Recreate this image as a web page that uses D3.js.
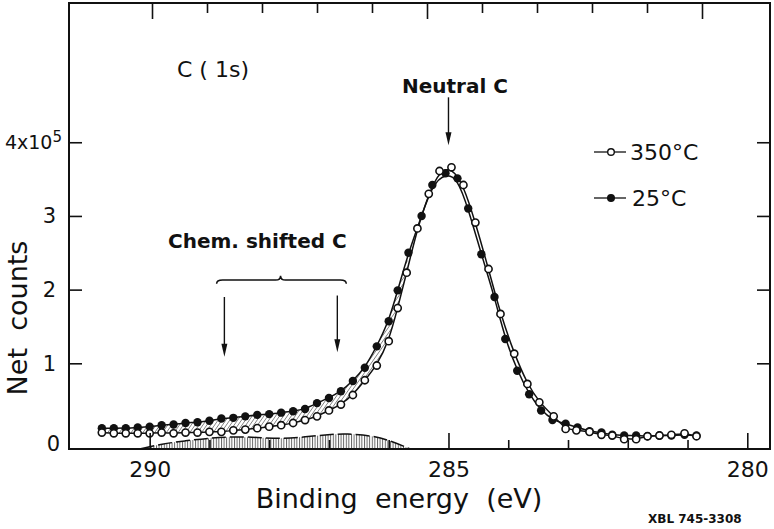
<!DOCTYPE html>
<html>
<head>
<meta charset="utf-8">
<script src="https://cdn.jsdelivr.net/npm/d3@7"></script>
<style>
  body { margin: 0; background: #fff; }
  svg { display: block; }
  text { font-family: "DejaVu Sans", sans-serif; fill: #111; }
</style>
</head>
<body>
<svg id="chart" width="774" height="529"></svg>
<script>
// ─── Data (counts in units of 1e5) ────────────────────────────────

// 350 °C, open circles
const energy350 = [290.8, 290.6, 290.4, 290.2, 290.0, 289.8, 289.6, 289.4, 289.2, 289.0,
  288.8, 288.6, 288.4, 288.2, 288.0, 287.8, 287.6, 287.4, 287.2, 287.0,
  286.8, 286.6, 286.4, 286.2, 286.0, 285.85, 285.7, 285.52, 285.33, 285.15,
  284.95, 284.75, 284.55, 284.33, 284.13, 283.9, 283.68, 283.48, 283.24, 283.04,
  282.86, 282.64, 282.44, 282.26, 282.06, 281.86, 281.67, 281.47, 281.27, 281.05, 280.85];
const counts350 = [0.06, 0.05, 0.05, 0.05, 0.05, 0.06, 0.05, 0.06, 0.06, 0.07,
  0.07, 0.09, 0.10, 0.12, 0.14, 0.16, 0.19, 0.23, 0.28, 0.36,
  0.44, 0.57, 0.77, 0.97, 1.30, 1.75, 2.23, 2.83, 3.30, 3.61,
  3.66, 3.42, 2.91, 2.28, 1.67, 1.13, 0.72, 0.47, 0.28, 0.11,
  0.09, 0.07, 0.03, 0.02, -0.03, -0.03, 0.01, 0.02, 0.03, 0.05, 0.01];

// 25 °C, filled circles
const energy25 = [290.8, 290.6, 290.4, 290.2, 290.0, 289.8, 289.6, 289.4, 289.2, 289.0,
  288.8, 288.6, 288.4, 288.2, 288.0, 287.8, 287.6, 287.4, 287.2, 287.0,
  286.8, 286.6, 286.4, 286.2, 286.0, 285.85, 285.67, 285.45, 285.27, 285.05,
  284.85, 284.67, 284.45, 284.23, 284.05, 283.85, 283.65, 283.45, 283.26, 283.04,
  282.84, 282.64, 282.44, 282.26, 282.06, 281.86, 281.67, 281.47, 281.27, 281.05, 280.85];
const counts25 = [0.12, 0.12, 0.12, 0.13, 0.14, 0.16, 0.17, 0.19, 0.20, 0.22,
  0.25, 0.26, 0.28, 0.30, 0.31, 0.33, 0.35, 0.38, 0.46, 0.53,
  0.62, 0.76, 0.94, 1.23, 1.57, 1.99, 2.50, 3.00, 3.42, 3.58,
  3.51, 3.10, 2.48, 1.90, 1.33, 0.90, 0.58, 0.36, 0.23, 0.18,
  0.13, 0.08, 0.06, 0.03, 0.02, 0.02, 0.01, 0.02, 0.02, 0.03, 0.02];

// dashed difference curve near the baseline
const diffEnergy = [290.15, 289.8, 289.4, 289.0, 288.6, 288.2, 287.8, 287.4, 287.0, 286.7, 286.3, 286.0, 285.65];
const diffCounts = [-0.16, -0.095, -0.05, -0.015, 0.005, -0.005, -0.025, 0.0, 0.035, 0.045, 0.02, -0.04, -0.16];

const xTicks = [290, 289, 288, 287, 286, 285, 284, 283, 282, 281, 280];
const xMajor = [290, 285, 280];
const yTicks = [0, 1, 2, 3, 4];
const hatchEndIndex = 26;   // the two fits merge past this point

// ─── Scales ───────────────────────────────────────────────────────

const svg = d3.select('#chart');
const x = d3.scaleLinear().domain([291.35, 279.62]).range([69, 770]);
const xTop = d3.scaleLinear().domain([290, 280]).range([152, 702]);   // top ticks are drawn tighter in the original
const y = d3.scaleLinear().domain([-0.163, 5.89]).range([449, 3]);

const pts350 = energy350.map((e, i) => [e, counts350[i]]);
const pts25 = energy25.map((e, i) => [e, counts25[i]]);
const diffPts = diffEnergy.map((e, i) => [e, diffCounts[i]]);

// ─── Patterns ─────────────────────────────────────────────────────

const defs = svg.append('defs');
defs.append('pattern')
  .attr('id', 'diag').attr('patternUnits', 'userSpaceOnUse')
  .attr('width', 3.2).attr('height', 3.2)
  .attr('patternTransform', 'rotate(35)')
  .append('line')
  .attr('x1', 0).attr('y1', 0).attr('x2', 0).attr('y2', 3.2)
  .attr('stroke', '#333').attr('stroke-width', 1);

defs.append('pattern')
  .attr('id', 'vert').attr('patternUnits', 'userSpaceOnUse')
  .attr('width', 2.6).attr('height', 10)
  .append('line')
  .attr('x1', 0.5).attr('y1', 0).attr('x2', 0.5).attr('y2', 10)
  .attr('stroke', '#555').attr('stroke-width', 0.9);

// ─── Difference region (bottom) ───────────────────────────────────

const diffArea = d3.area()
  .x(d => x(d[0])).y0(y(y.domain()[0])).y1(d => y(d[1]))
  .curve(d3.curveBasis);
svg.append('path').datum(diffPts)
  .attr('d', diffArea).attr('fill', 'url(#vert)').attr('stroke', 'none');
svg.append('path').datum(diffPts)
  .attr('d', d3.line().x(d => x(d[0])).y(d => y(d[1])).curve(d3.curveBasis))
  .attr('fill', 'none').attr('stroke', '#111').attr('stroke-width', 1.5)
  .attr('stroke-dasharray', '14,4');

// ─── Hatched band between the two fits ────────────────────────────

const fit = d3.line().x(d => x(d[0])).y(d => y(d[1])).curve(d3.curveBasis);
const bandTop = pts25.slice(0, hatchEndIndex + 1);
const bandBot = pts350.slice(0, hatchEndIndex + 1).reverse();
svg.append('path')
  .attr('d', fit(bandTop) + fit(bandBot).replace(/^M/, 'L') + 'Z')
  .attr('fill', 'url(#diag)').attr('stroke', 'none');

svg.append('path').datum(pts25).attr('d', fit)
  .attr('fill', 'none').attr('stroke', '#111').attr('stroke-width', 1.5);
svg.append('path').datum(pts350).attr('d', fit)
  .attr('fill', 'none').attr('stroke', '#111').attr('stroke-width', 1.5);

// ─── Markers ──────────────────────────────────────────────────────

svg.append('g').selectAll('circle').data(pts25).join('circle')
  .attr('cx', d => x(d[0])).attr('cy', d => y(d[1])).attr('r', 4.2)
  .attr('fill', '#111');
svg.append('g').selectAll('circle').data(pts350).join('circle')
  .attr('cx', d => x(d[0])).attr('cy', d => y(d[1])).attr('r', 3.6)
  .attr('fill', '#fff').attr('stroke', '#111').attr('stroke-width', 1.6);

// ─── Frame and axes ───────────────────────────────────────────────

svg.append('rect')
  .attr('x', x.range()[0]).attr('y', y.range()[1])
  .attr('width', x.range()[1] - x.range()[0]).attr('height', y.range()[0] - y.range()[1])
  .attr('fill', 'none').attr('stroke', '#111').attr('stroke-width', 2);

const gx = svg.append('g')
  .attr('transform', `translate(0,${y.range()[0]})`)
  .call(d3.axisBottom(x).tickValues(xTicks).tickSize(-9).tickPadding(12)
    .tickFormat(d => xMajor.includes(d) ? d : ''));
gx.select('.domain').remove();
gx.selectAll('.tick line').attr('stroke', '#111').attr('stroke-width', 1.6)
  .attr('y2', d => xMajor.includes(d) ? -16 : -9);
gx.selectAll('.tick text').attr('font-family', '"DejaVu Sans", sans-serif')
  .attr('font-size', 22).attr('fill', '#111');

const gxTop = svg.append('g')
  .attr('transform', `translate(0,${y.range()[1]})`)
  .call(d3.axisTop(xTop).tickValues(xTicks).tickSize(-9).tickFormat(''));
gxTop.select('.domain').remove();
gxTop.selectAll('.tick line').attr('stroke', '#111').attr('stroke-width', 1.6)
  .attr('y2', d => xMajor.includes(d) ? 16 : 10);

const gy = svg.append('g')
  .attr('transform', `translate(${x.range()[0]},0)`)
  .call(d3.axisLeft(y).tickValues(yTicks).tickSize(-13).tickPadding(13).tickFormat(d3.format('d')));
gy.select('.domain').remove();
gy.selectAll('.tick line').attr('stroke', '#111').attr('stroke-width', 1.6)
  .attr('display', d => d === 0 ? 'none' : null);
gy.selectAll('.tick text').attr('font-family', '"DejaVu Sans", sans-serif')
  .attr('font-size', 21).attr('fill', '#111');
gy.selectAll('.tick text').filter(d => d === 0).attr('x', -9).attr('dy', '0.62em');
gy.selectAll('.tick text').filter(d => d === 4).each(function () {
  const t = d3.select(this).text('').attr('x', -7);
  t.append('tspan').text('4x10').attr('font-size', 19);
  t.append('tspan').text('5').attr('font-size', 15).attr('dy', -7);
});

const gyR = svg.append('g')
  .attr('transform', `translate(${x.range()[1]},0)`)
  .call(d3.axisRight(y).tickValues(yTicks.slice(1)).tickSize(-13).tickFormat(''));
gyR.select('.domain').remove();
gyR.selectAll('.tick line').attr('stroke', '#111').attr('stroke-width', 1.6);

// ─── Axis titles ──────────────────────────────────────────────────

svg.append('text')
  .attr('transform', 'translate(27,318) rotate(-90)')
  .attr('text-anchor', 'middle').attr('font-size', 27)
  .style('white-space', 'pre')
  .text('Net  counts');

svg.append('text')
  .attr('x', 399).attr('y', 508)
  .attr('text-anchor', 'middle').attr('font-size', 27)
  .style('white-space', 'pre')
  .text('Binding  energy  (eV)');

svg.append('text')
  .attr('x', 648).attr('y', 523)
  .attr('font-size', 12).attr('font-weight', 'bold')
  .text('XBL 745-3308');

// ─── Annotations ──────────────────────────────────────────────────

svg.append('text').attr('x', 177).attr('y', 77).attr('font-size', 22)
  .style('white-space', 'pre').text('C ( 1s)');

svg.append('text').attr('x', 402).attr('y', 93)
  .attr('font-size', 20).attr('font-weight', 'bold').text('Neutral C');

svg.append('text').attr('x', 168).attr('y', 248)
  .attr('font-size', 20).attr('font-weight', 'bold').text('Chem. shifted C');

function arrow(e, fromV, toV) {
  const ax = x(e), y0 = y(fromV), y1 = y(toV);
  svg.append('line').attr('x1', ax).attr('x2', ax).attr('y1', y0).attr('y2', y1 - 6)
    .attr('stroke', '#111').attr('stroke-width', 1.4);
  svg.append('path')
    .attr('d', `M${ax - 3},${y1 - 13}L${ax + 3},${y1 - 13}L${ax},${y1}Z`)
    .attr('fill', '#111');
}
arrow(285, 4.61, 3.96);
arrow(288.75, 1.90, 1.09);
arrow(286.86, 1.92, 1.15);

// curly brace over the two shifted positions
const bL = x(288.88), bR = x(286.71), bM = x(287.81);
const bY = y(2.13), bEnd = y(2.08), bTip = y(2.19);
svg.append('path')
  .attr('d', `M${bL},${bEnd} Q${bL},${bY} ${bL + 6},${bY} L${bM - 5},${bY} Q${bM},${bY} ${bM},${bTip}` +
             ` Q${bM},${bY} ${bM + 5},${bY} L${bR - 6},${bY} Q${bR},${bY} ${bR},${bEnd}`)
  .attr('fill', 'none').attr('stroke', '#111').attr('stroke-width', 1.5);

// ─── Legend ───────────────────────────────────────────────────────

const legend = [
  { label: '350°C', open: true, ly: 152, tx: 630 },
  { label: '25°C', open: false, ly: 198, tx: 632 }
];
const lg = svg.append('g');
legend.forEach(d => {
  lg.append('line').attr('x1', 594).attr('x2', 626).attr('y1', d.ly).attr('y2', d.ly)
    .attr('stroke', '#111').attr('stroke-width', 1.3);
  lg.append('circle').attr('cx', 611).attr('cy', d.ly).attr('r', 3.3)
    .attr('fill', d.open ? '#fff' : '#111').attr('stroke', '#111').attr('stroke-width', 1.4);
  lg.append('text').attr('x', d.tx).attr('y', d.ly + 8).attr('font-size', 22).text(d.label);
});
</script>
</body>
</html>
